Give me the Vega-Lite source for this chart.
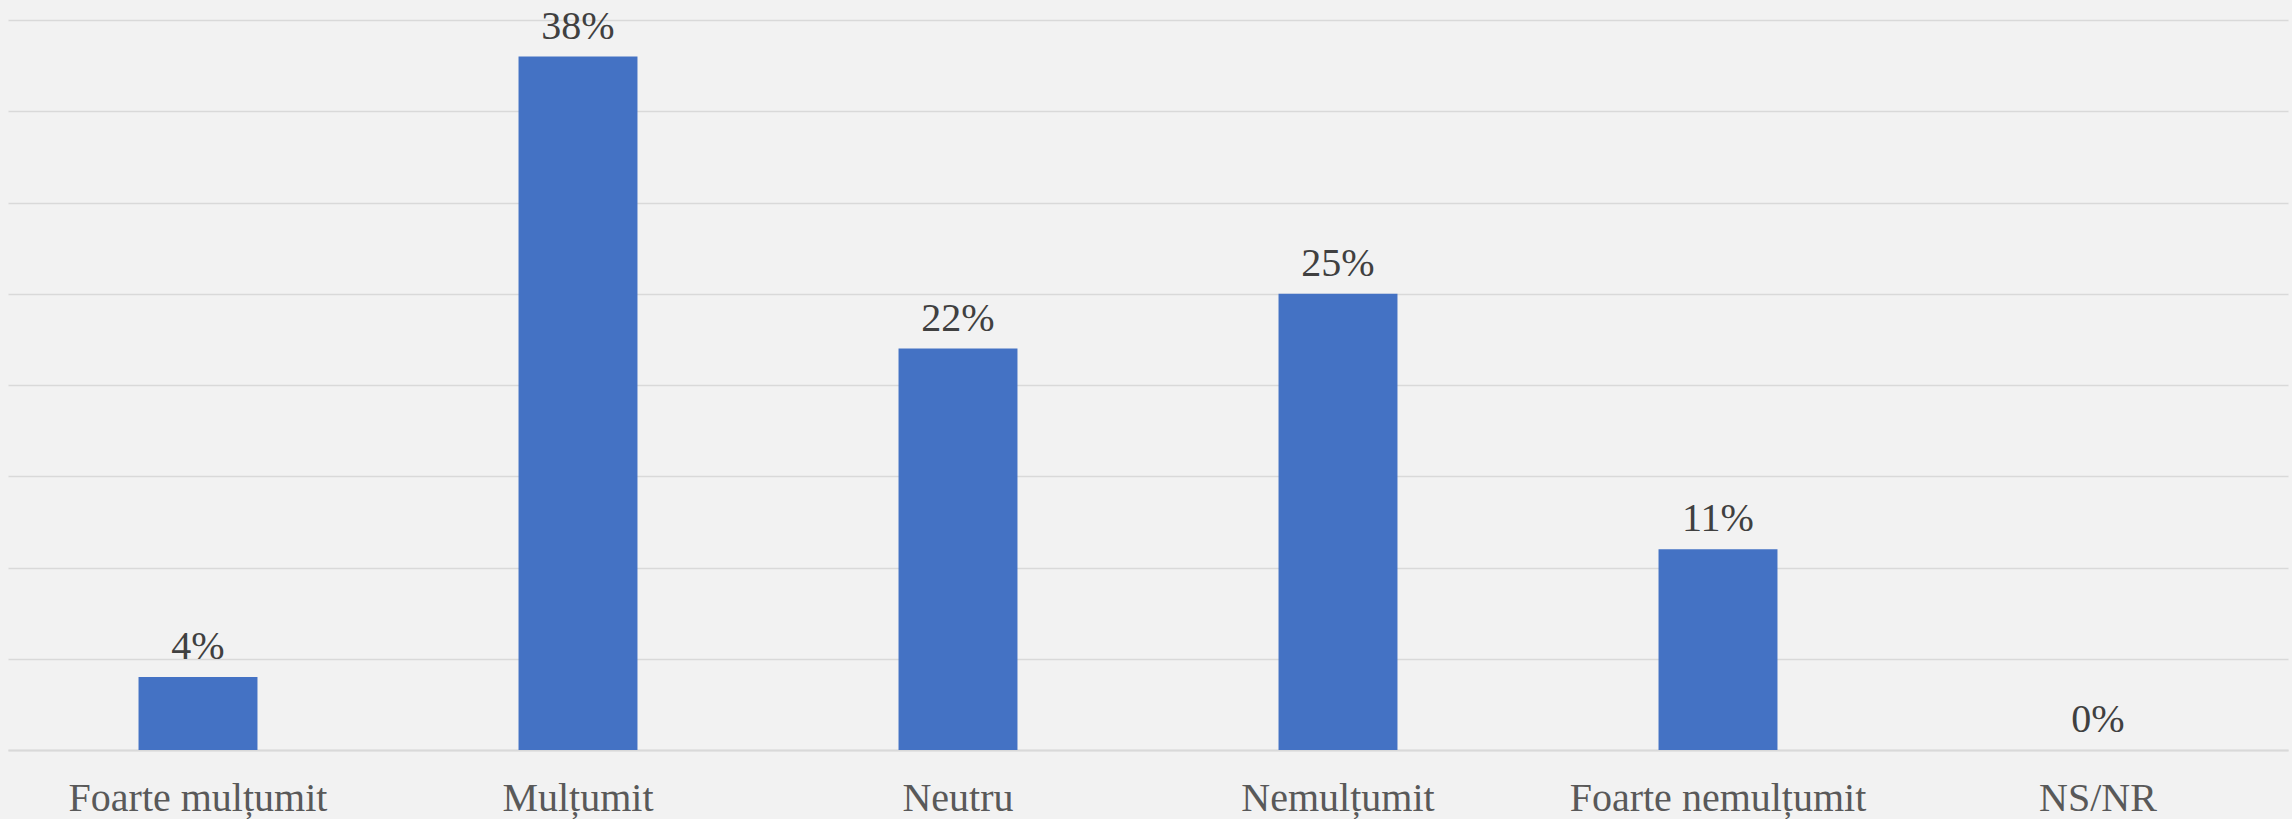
{
  "$schema": "https://vega.github.io/schema/vega-lite/v6.json",
  "autosize": "none",
  "width": 2280,
  "height": 730,
  "padding": {"left": 8, "top": 20, "right": 4, "bottom": 69},
  "background": "#F2F2F2",
  "config": {"view": {"stroke": null}, "font": "Liberation Serif"},
  "data": {
    "values": [
      {"categorie": "Foarte mulțumit", "procent": 0.04},
      {"categorie": "Mulțumit", "procent": 0.38},
      {"categorie": "Neutru", "procent": 0.22},
      {"categorie": "Nemulțumit", "procent": 0.25},
      {"categorie": "Foarte nemulțumit", "procent": 0.11},
      {"categorie": "NS/NR", "procent": 0.0}
    ]
  },
  "encoding": {
    "x": {
      "field": "categorie",
      "type": "nominal",
      "sort": null,
      "scale": {"paddingInner": 0.687, "paddingOuter": 0.3435},
      "axis": {
        "title": null,
        "labelAngle": 0,
        "labelFont": "Liberation Serif",
        "labelFontSize": 40,
        "labelColor": "#595959",
        "labelBaseline": "alphabetic",
        "labelPadding": 60,
        "labelLimit": 0,
        "ticks": false,
        "tickSize": 0,
        "domain": true,
        "domainColor": "#D9D9D9",
        "domainWidth": 2,
        "grid": false
      }
    },
    "y": {
      "field": "procent",
      "type": "quantitative",
      "scale": {"domain": [0, 0.4], "nice": false},
      "axis": {
        "title": null,
        "labels": false,
        "ticks": false,
        "domain": false,
        "grid": true,
        "gridColor": "#D9D9D9",
        "gridWidth": 1.5,
        "values": [0, 0.05, 0.1, 0.15, 0.2, 0.25, 0.3, 0.35, 0.4]
      }
    }
  },
  "layer": [
    {"mark": {"type": "bar", "color": "#4472C4"}},
    {
      "mark": {"type": "text", "baseline": "alphabetic", "dy": -18, "fontSize": 40, "font": "Liberation Serif", "color": "#404040"},
      "encoding": {"text": {"field": "procent", "type": "quantitative", "format": ".0%"}}
    }
  ]
}
